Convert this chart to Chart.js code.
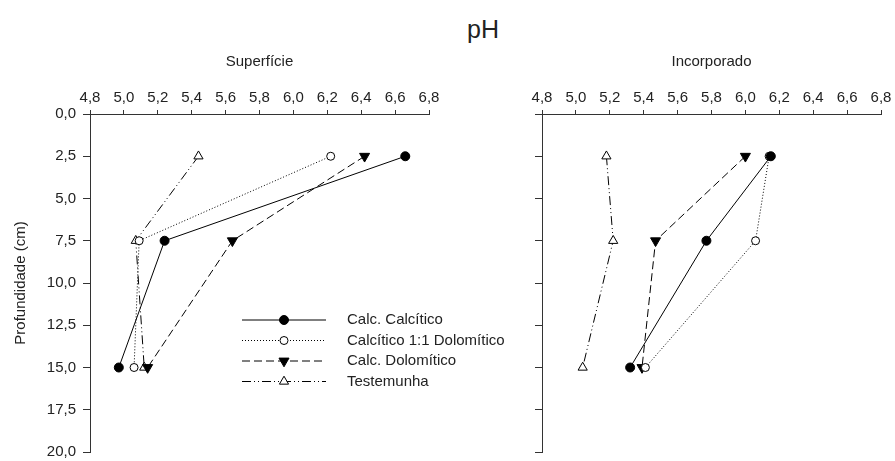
<!DOCTYPE html>
<html lang="pt">
<head>
<meta charset="utf-8">
<title>pH</title>
<script src="https://cdn.jsdelivr.net/npm/chart.js@4.4.1/dist/chart.umd.min.js"></script>
<style>
  html, body { margin: 0; padding: 0; background: #fff; }
  #fig { position: relative; width: 895px; height: 461px; font-family: 'Liberation Sans', Arial, sans-serif; }
  #title { position: absolute; left: 433px; top: 17px; width: 100px; text-align: center; font-size: 25px; line-height: 25px; color: #222; }
  .panel { position: absolute; top: 0; height: 461px; }
  #panelSup { left: 0; width: 560px; z-index: 2; }
  #panelInc { left: 450px; width: 445px; z-index: 1; }
</style>
</head>
<body>
<div id="fig">
  <div id="title">pH</div>
  <div class="panel" id="panelSup"><canvas id="chartSup"></canvas></div>
  <div class="panel" id="panelInc"><canvas id="chartInc"></canvas></div>
</div>
<script>
/* pH por profundidade: Superfície x Incorporado */
const depths = [2.5, 7.5, 15];

const seriesLabels = ['Calc. Calcítico', 'Calcítico 1:1 Dolomítico', 'Calc. Dolomítico', 'Testemunha'];

// Superfície
const supCalcitico = [6.66, 5.24, 4.97];
const supMisto = [6.22, 5.09, 5.06];
const supDolomitico = [6.42, 5.64, 5.14];
const supTestemunha = [5.44, 5.07, 5.12];

// Incorporado
const incCalcitico = [6.15, 5.77, 5.32];
const incMisto = [6.14, 6.06, 5.41];
const incDolomitico = [6.00, 5.47, 5.39];
const incTestemunha = [5.18, 5.22, 5.04];

const xMin = 4.8, xMax = 6.8, xStep = 0.2;
const yMin = 0, yMax = 20, yStep = 2.5;

const FONT = { family: "'Liberation Sans', Arial, sans-serif", size: 15 };
const TEXT = '#222';
const AXIS = '#333';

const SERIES_STYLE = [
  { borderDash: [], pointStyle: 'circle', pointRadius: 4.5, pointBackgroundColor: '#000', pointRotation: 0 },
  { borderDash: [1, 2], pointStyle: 'circle', pointRadius: 4, pointBackgroundColor: '#fff', pointRotation: 0 },
  { borderDash: [8, 4], pointStyle: 'triangle', pointRadius: 5.8, pointBackgroundColor: '#000', pointRotation: 180 },
  { borderDash: [9, 3, 1, 3, 1, 3], pointStyle: 'triangle', pointRadius: 5.3, pointBackgroundColor: '#fff', pointRotation: 0 },
];

const fmt = (v) => Number(v).toFixed(1).replace('.', ',');

function profileDataset(i, values) {
  return {
    label: seriesLabels[i],
    data: values.map((v, k) => ({ x: v, y: depths[k] })),
    borderColor: '#000',
    borderWidth: 1,
    pointBorderColor: '#000',
    pointBorderWidth: 1,
    pointHoverRadius: 0,
    fill: false,
    tension: 0,
    ...SERIES_STYLE[i],
  };
}

// legenda dentro do painel esquerdo
const inlineLegend = {
  id: 'inlineLegend',
  afterDatasetsDraw(chart, args, opts) {
    const ctx = chart.ctx;
    chart.data.datasets.forEach((ds, i) => {
      const y = opts.top + i * opts.rowGap;
      ctx.save();
      ctx.strokeStyle = ds.borderColor;
      ctx.lineWidth = ds.borderWidth;
      ctx.setLineDash(ds.borderDash);
      ctx.beginPath();
      ctx.moveTo(opts.x0, y);
      ctx.lineTo(opts.x1, y);
      ctx.stroke();
      ctx.setLineDash([]);
      ctx.fillStyle = ds.pointBackgroundColor;
      ctx.strokeStyle = ds.pointBorderColor;
      ctx.lineWidth = 1;
      Chart.helpers.drawPoint(ctx, {
        pointStyle: ds.pointStyle,
        radius: ds.pointRadius,
        rotation: ds.pointRotation,
        borderWidth: 1,
      }, (opts.x0 + opts.x1) / 2, y);
      ctx.fillStyle = TEXT;
      ctx.font = `${FONT.size}px ${FONT.family}`;
      ctx.textAlign = 'left';
      ctx.textBaseline = 'middle';
      ctx.fillText(ds.label, opts.textX, y);
      ctx.restore();
    });
  },
};

function panelOpts(title, withYLabels, yWidth, padRight) {
  return {
    responsive: true,
    maintainAspectRatio: false,
    animation: false,
    events: [],
    layout: { padding: { top: 0, left: 0, right: padRight, bottom: 0 } },
    plugins: {
      legend: { display: false },
      tooltip: { enabled: false },
      inlineLegend: { top: 320, rowGap: 20.5, x0: 242, x1: 326, textX: 347 },
    },
    scales: {
      x: {
        type: 'linear',
        position: 'top',
        min: xMin,
        max: xMax,
        afterFit: (s) => { s.height = 114; },
        ticks: { stepSize: xStep, autoSkip: false, maxRotation: 0, padding: 3, color: TEXT, font: FONT, callback: fmt },
        grid: { drawOnChartArea: false, drawTicks: true, tickLength: 4, color: AXIS },
        border: { display: true, color: AXIS, width: 1 },
        title: { display: true, text: title, color: TEXT, font: FONT, padding: { top: 53, bottom: 0 } },
      },
      y: {
        type: 'linear',
        position: 'left',
        reverse: true,
        min: yMin,
        max: yMax,
        afterFit: (s) => { s.width = yWidth; s.paddingTop = 0; s.paddingBottom = 9; },
        ticks: { stepSize: yStep, padding: 7, color: TEXT, font: FONT, callback: withYLabels ? fmt : () => '' },
        grid: { drawOnChartArea: false, drawTicks: true, tickLength: 7, color: AXIS },
        border: { display: true, color: AXIS, width: 1 },
        title: { display: withYLabels, text: 'Profundidade (cm)', color: TEXT, font: FONT, padding: { top: 12, bottom: 0 } },
      },
    },
  };
}

new Chart(document.getElementById('chartSup'), {
  type: 'line',
  data: {
    datasets: [
      profileDataset(0, supCalcitico),
      profileDataset(1, supMisto),
      profileDataset(2, supDolomitico),
      profileDataset(3, supTestemunha),
    ],
  },
  options: panelOpts('Superfície', true, 90, 131),
  plugins: [inlineLegend],
});

new Chart(document.getElementById('chartInc'), {
  type: 'line',
  data: {
    datasets: [
      profileDataset(0, incCalcitico),
      profileDataset(1, incMisto),
      profileDataset(2, incDolomitico),
      profileDataset(3, incTestemunha),
    ],
  },
  options: panelOpts('Incorporado', false, 92, 14),
});
</script>
</body>
</html>
